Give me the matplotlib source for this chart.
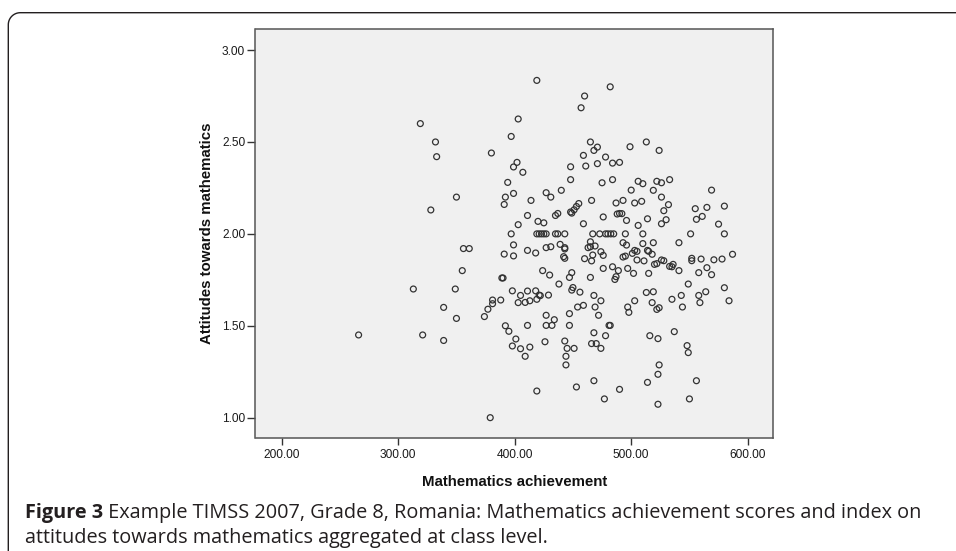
import matplotlib
matplotlib.use("Agg")
import matplotlib.pyplot as plt
import numpy as np
from matplotlib.lines import Line2D

# class-level scores
math_left = [266, 319, 332, 333, 350, 328, 356, 361, 355, 313, 349, 339, 350, 321, 339,
             379, 374, 377, 381, 381, 388, 380, 389, 390, 391, 392, 394, 397, 399, 397,
             391, 392, 395, 398, 398, 399, 399]
att_left = [1.45, 2.60, 2.50, 2.42, 2.20, 2.13, 1.92, 1.92, 1.80, 1.70, 1.70, 1.60, 1.54, 1.45, 1.42,
            1.00, 1.55, 1.59, 1.64, 1.62, 1.64, 2.44, 1.76, 1.76, 2.16, 2.20, 2.28, 2.53, 2.22, 2.00,
            1.89, 1.50, 1.47, 1.39, 1.69, 1.94, 1.88]

math_top = [419, 482, 460, 457, 403, 465, 468, 471, 459, 461, 471, 478, 484, 490, 499, 513, 524,
            448, 402, 399, 407, 448, 484, 475, 506, 510, 522, 526, 533, 440, 427, 431, 414, 411,
            435, 437, 448, 449, 451, 453, 455, 466, 476, 487, 493, 488, 490, 492, 496, 500, 503,
            509, 519, 526, 532, 528, 530, 526, 514, 506, 459, 420, 425, 403,
            569, 555, 565, 580, 556, 561, 575]
att_top = [2.835, 2.80, 2.75, 2.686, 2.625, 2.50, 2.454, 2.472, 2.427, 2.369, 2.382, 2.418, 2.385,
           2.389, 2.474, 2.50, 2.454, 2.365, 2.389, 2.364, 2.335, 2.295, 2.295, 2.278, 2.286, 2.273,
           2.286, 2.278, 2.295, 2.237, 2.224, 2.20, 2.182, 2.10, 2.10, 2.111, 2.119, 2.113, 2.131,
           2.149, 2.165, 2.182, 2.092, 2.168, 2.182, 2.108, 2.111, 2.11, 2.073, 2.238, 2.168, 2.177,
           2.237, 2.20, 2.159, 2.126, 2.077, 2.055, 2.082, 2.046, 2.055, 2.068, 2.06, 2.05,
           2.238, 2.137, 2.144, 2.151, 2.079, 2.095, 2.053]

math_two = [419, 421, 423, 425, 427, 435, 437, 443, 467, 473, 478, 480, 482.5, 485, 495, 510, 551, 580]
att_two = [2.00] * len(math_two)

math_low = [541, 519, 510, 493, 496, 465, 439, 427, 431, 443, 443, 463, 465, 469, 411, 418, 474,
            476, 467, 442, 443, 514, 515, 518, 503, 505, 493, 495, 460, 466, 505, 511, 520, 522,
            526, 528, 536, 533, 535, 541, 552, 552, 560, 571, 578, 587, 565, 558, 569, 476, 484,
            489, 497, 502, 515, 424, 430, 449, 447, 465, 487, 486, 438, 450, 449, 456, 418, 411,
            405, 421, 422, 429, 419, 413, 409, 403, 468, 474, 469, 472, 454, 459, 447, 427, 434,
            427, 432, 447, 411, 481, 482, 513, 519, 535, 543, 549, 558, 564, 580, 584, 559, 544,
            503, 497, 498, 518, 522, 524, 537, 516, 523, 468, 478, 466, 470, 474, 443, 445, 451,
            444, 444, 426, 413, 405, 409, 401, 548, 549, 524, 523, 468, 514, 556, 453, 490, 419,
            477, 550, 523, 501]
att_low = [1.952, 1.952, 1.947, 1.952, 1.939, 1.957, 1.943, 1.925, 1.930, 1.925, 1.918, 1.925,
           1.930, 1.934, 1.910, 1.896, 1.903, 1.883, 1.885, 1.876, 1.867, 1.910, 1.905, 1.889,
           1.910, 1.905, 1.874, 1.879, 1.865, 1.853, 1.858, 1.853, 1.834, 1.838, 1.858, 1.854,
           1.834, 1.823, 1.821, 1.80, 1.867, 1.854, 1.863, 1.859, 1.863, 1.889, 1.816, 1.789,
           1.778, 1.812, 1.821, 1.80, 1.812, 1.785, 1.785, 1.80, 1.776, 1.789, 1.763, 1.763,
           1.767, 1.752, 1.727, 1.708, 1.694, 1.683, 1.690, 1.689, 1.665, 1.667, 1.664, 1.667,
           1.644, 1.636, 1.627, 1.626, 1.665, 1.636, 1.602, 1.557, 1.602, 1.611, 1.566, 1.557,
           1.533, 1.502, 1.502, 1.502, 1.502, 1.502, 1.502, 1.681, 1.685, 1.644, 1.665, 1.727,
           1.665, 1.685, 1.707, 1.636, 1.626, 1.602, 1.636, 1.602, 1.573, 1.626, 1.589, 1.598,
           1.468, 1.446, 1.430, 1.462, 1.446, 1.403, 1.403, 1.377, 1.417, 1.377, 1.377, 1.334,
           1.287, 1.413, 1.384, 1.375, 1.334, 1.428, 1.392, 1.354, 1.287, 1.236, 1.201, 1.192,
           1.201, 1.167, 1.154, 1.145, 1.102, 1.102, 1.073, 1.894]

x_ticks = [200, 300, 400, 500, 600]
y_ticks = [1.0, 1.5, 2.0, 2.5, 3.0]

math_all = math_left + math_top + math_two + math_low
att_all = att_left + att_top + att_two + att_low

W, H = 956, 551
fig = plt.figure(figsize=(W / 100, H / 100), dpi=100)
fig.patch.set_facecolor("white")

ax_l, ax_r, ax_t, ax_b = 255.5, 773.3, 29.3, 437.7
ax = fig.add_axes([ax_l / W, 1 - ax_b / H, (ax_r - ax_l) / W, (ax_b - ax_t) / H])
ax.set_facecolor("#f0f0f0")

ax.scatter(math_all, att_all, s=18, facecolors="none", edgecolors="#333333", linewidths=0.9, zorder=3)

ax.set_xlim(177.5, 622)
ax.set_ylim(0.891, 3.113)
ax.set_xticks(x_ticks)
ax.set_xticklabels(["%.2f" % v for v in x_ticks])
ax.set_yticks(y_ticks)
ax.set_yticklabels(["%.2f" % v for v in y_ticks])

for s in ax.spines.values():
    s.set_color("#555555")
    s.set_linewidth(1.1)

for lab in ax.get_xticklabels() + ax.get_yticklabels():
    lab.set_fontfamily("Liberation Sans")
    lab.set_fontsize(8.6)
    lab.set_color("#1a1a1a")
ax.tick_params(axis="y", length=6, width=1.0, color="#333333", pad=1.5)
ax.tick_params(axis="x", length=5, width=1.0, color="#333333", pad=3)

ax.set_xlabel("Mathematics achievement", family="Liberation Sans", weight="bold",
              fontsize=10.8, va="center", color="#111111")
ax.xaxis.set_label_coords(0.5, (ax_b - 481.7) / (ax_b - ax_t))
ax.set_ylabel("Attitudes towards mathematics", family="Liberation Sans", weight="bold",
              fontsize=10.8, va="center", color="#111111")
ax.yaxis.set_label_coords((206.7 - ax_l) / (ax_r - ax_l), 0.5)

# outer frame: top rule and left rule with rounded corner
r = 12
frame_x, frame_y = 8.3, 12.7
theta = np.linspace(np.pi, np.pi / 2, 20)
cx = frame_x + r + r * np.cos(theta)
cy = frame_y + r - r * np.sin(theta)
px = np.concatenate([[frame_x], cx, [W]])
py = np.concatenate([[H], cy, [frame_y]])
fig.add_artist(Line2D(px / W, 1 - py / H, transform=fig.transFigure,
                      color="#231f20", linewidth=1.0))

# caption, fitted to the reference line width
cap_bold = "Figure 3"
cap_rest = " Example TIMSS 2007, Grade 8, Romania: Mathematics achievement scores and index on"
cap_line2 = "attitudes towards mathematics aggregated at class level."
cap_fam = ["Open Sans", "DejaVu Sans"]
x0, x1 = 25.0, 922.0
base1, base2 = 518.3, 543.3

renderer = fig.canvas.get_renderer()
size = 12.0
for _ in range(3):
    t1 = fig.text(0, 0, cap_bold, family=cap_fam, weight="bold", fontsize=size)
    t2 = fig.text(0, 0, cap_rest, family=cap_fam, fontsize=size)
    w = t1.get_window_extent(renderer).width + t2.get_window_extent(renderer).width
    t1.remove()
    t2.remove()
    size = size * (x1 - x0) / w

t1 = fig.text(x0 / W, 1 - base1 / H, cap_bold, family=cap_fam, weight="bold",
              fontsize=size, va="baseline", color="#231f20")
w1 = t1.get_window_extent(renderer).width
fig.text((x0 + w1) / W, 1 - base1 / H, cap_rest, family=cap_fam,
         fontsize=size, va="baseline", color="#231f20")
fig.text(x0 / W, 1 - base2 / H, cap_line2, family=cap_fam,
         fontsize=size, va="baseline", color="#231f20")

fig.savefig("out.png", dpi=100, facecolor="white")
